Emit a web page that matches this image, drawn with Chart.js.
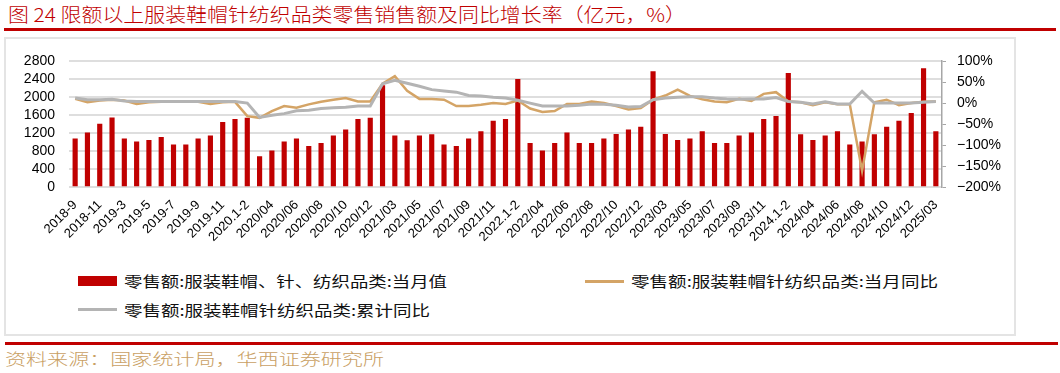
<!DOCTYPE html>
<html>
<head>
<meta charset="utf-8">
<script src="https://cdn.jsdelivr.net/npm/chart.js@4.4.1/dist/chart.umd.min.js"></script>
<style>
  body { margin: 0; width: 1060px; height: 373px; background: #fff; position: relative; overflow: hidden;
         font-family: "Noto Sans CJK SC", sans-serif; }
  .abs { position: absolute; white-space: nowrap; }
  .fit { transform-origin: left center; }
  #title { left: 8px; top: 2px; font-size: 19px; line-height: 24px; color: #c00000; font-weight: 300; }
  #rule-top { left: 4px; top: 28px; width: 1052px; height: 3px; background: #c00000; }
  #frame { left: 4px; top: 37px; width: 1008px; height: 295px; border: 2px solid #e4e4e4; }
  #chart-wrap { left: 0; top: 40px; width: 1012px; height: 225px; }
  .legend-text { font-size: 15px; line-height: 20px; color: #111; }
  #rule-bottom { left: 5px; top: 342px; width: 1053px; height: 3px; background: #c00000; }
  #source { left: 5px; top: 348px; font-size: 16px; line-height: 20px; color: #c9a063; font-weight: 300; }
</style>
</head>
<body>
<div id="title" class="abs fit">图 24 限额以上服装鞋帽针纺织品类零售销售额及同比增长率（亿元，%）</div>
<div id="rule-top" class="abs"></div>
<div id="frame" class="abs"></div>
<div id="chart-wrap" class="abs"><canvas id="retailChart"></canvas></div>
<div id="legend"></div>
<div id="rule-bottom" class="abs"></div>
<div id="source" class="abs fit">资料来源：国家统计局，华西证券研究所</div>

<script>
//Categories (monthly, Jan-Feb combined)
const months = [
  '2018-9', '2018-10', '2018-11', '2018-12', '2019-3', '2019-4', '2019-5', '2019-6', '2019-7', '2019-8',
  '2019-9', '2019-10', '2019-11', '2019-12', '2020.1-2', '2020/03', '2020/04', '2020/05', '2020/06', '2020/07',
  '2020/08', '2020/09', '2020/10', '2020/11', '2020/12', '2021.1-2', '2021/03', '2021/04', '2021/05', '2021/06',
  '2021/07', '2021/08', '2021/09', '2021/10', '2021/11', '2021/12', '2022.1-2', '2022/03', '2022/04', '2022/05',
  '2022/06', '2022/07', '2022/08', '2022/09', '2022/10', '2022/11', '2022/12', '2023.1-2', '2023/03', '2023/04',
  '2023/05', '2023/06', '2023/07', '2023/08', '2023/09', '2023/10', '2023/11', '2023/12', '2024.1-2', '2024/03',
  '2024/04', '2024/05', '2024/06', '2024/07', '2024/08', '2024/09', '2024/10', '2024/11', '2024/12', '2025.1-2',
  '2025/03'
];

//Retail sales, 100 million yuan (left axis)
const salesValue = [
  1080, 1213, 1411, 1550, 1080, 1014, 1050, 1116, 948, 948,
  1080, 1147, 1447, 1513, 1543, 690, 816, 1014, 1080, 917,
  983, 1147, 1279, 1513, 1543, 2262, 1147, 1043, 1147, 1175,
  948, 917, 1080, 1241, 1477, 1513, 2403, 983, 816, 983,
  1213, 983, 983, 1080, 1182, 1279, 1345, 2572, 1182, 1050,
  1080, 1241, 983, 983, 1147, 1213, 1513, 1579, 2536, 1175,
  1050, 1147, 1241, 948, 1014, 1175, 1345, 1477, 1645, 2637,
  1241
];

//Month YoY, % (right axis)
const monthYoY = [
  10, 2, 6, 8, 6, -2, 2, 3, 3, 3,
  3, -2, 2, 3, -31, -35, -19, -7, -11, -3,
  3, 8, 12, 4, 4, 46, 64, 29, 10, 10,
  8, -7, -7, -4, 0, -2, 6, -13, -21, -19,
  -2, -2, 4, 0, -7, -15, -12, 8, 18, 32,
  17, 9, 4, 2, 10, 5, 22, 26, 4, 2,
  -5, 2, -3, -3, -161, 2, 8, -5, 0, 3,
  4
];

//Year-to-date YoY, % (right axis)
const ytdYoY = [
  12, 8, 8, 9, 5, 4, 4, 4, 4, 4,
  4, 4, 4, 4, 0, -34, -29, -25, -18, -17,
  -13, -11, -10, -7, -7, 46, 54, 47, 40, 32,
  29, 26, 18, 17, 14, 12, 7, 0, -7, -7,
  -7, -5, -2, -3, -5, -9, -8, 8, 12, 14,
  15, 15, 12, 10, 9, 10, 10, 13, 4, 2,
  -2, 3, -2, -2, 28, 0, 0, 0, 0, 2,
  4
];

const seriesNames = [
  '零售额:服装鞋帽、针、纺织品类:当月值',
  '零售额:服装鞋帽针纺织品类:当月同比',
  '零售额:服装鞋帽针纺织品类:累计同比'
];

const tickFont = { family: '"Liberation Sans", Arial, sans-serif', size: 14, lineHeight: 1 };

//Stretch a text element to a given width (reference text is wide-set)
function stretchTo(el, width) {
  const natural = el.getBoundingClientRect().width;
  el.style.transform = `scaleX(${width / natural})`;
}

//Create combo chart
function createChart() {
  const ctx = document.getElementById('retailChart').getContext('2d');

  /* global Chart */
  return new Chart(ctx, {
    type: 'bar',
    data: {
      labels: months,
      datasets: [
        {
          type: 'bar', label: seriesNames[0], data: salesValue, yAxisID: 'y', order: 3,
          backgroundColor: '#c00000', barPercentage: 0.42, categoryPercentage: 1
        },
        {
          type: 'line', label: seriesNames[1], data: monthYoY, yAxisID: 'y1', order: 2,
          borderColor: '#d4a466', borderWidth: 2.5, pointRadius: 0, tension: 0
        },
        {
          type: 'line', label: seriesNames[2], data: ytdYoY, yAxisID: 'y1', order: 1,
          borderColor: '#b4b4b4', borderWidth: 3, pointRadius: 0, tension: 0
        }
      ]
    },
    options: {
      responsive: true,
      maintainAspectRatio: false,
      animation: false,
      layout: { padding: { top: 20 } },
      plugins: { legend: { display: false }, tooltip: { enabled: false } },
      scales: {
        x: {
          grid: { display: false },
          border: { display: false },
          ticks: {
            autoSkip: false, maxRotation: 45, minRotation: 45, padding: 2,
            color: '#000', font: { family: tickFont.family, size: 13 },
            callback: function(value, index) {
              return index % 2 === 0 ? this.getLabelForValue(value) : '';
            }
          },
          afterFit: (scale) => { scale.height = 77.7; }
        },
        y: {
          position: 'left', min: 0, max: 2800,
          ticks: {
            stepSize: 400, autoSkip: false, maxTicksLimit: 20, padding: 14, color: '#000', font: tickFont,
            callback: (v) => String(v)
          },
          grid: { color: '#dedede', lineWidth: 2, drawTicks: false },
          border: { display: false },
          afterFit: (scale) => { scale.width = 69; }
        },
        y1: {
          position: 'right', min: -200, max: 100,
          ticks: {
            stepSize: 50, autoSkip: false, maxTicksLimit: 20, padding: 11, color: '#000', font: tickFont,
            callback: (v) => (v < 0 ? '\u2212' + Math.abs(v) : v) + '%'
          },
          grid: { drawOnChartArea: false, color: '#a6a6a6', tickLength: 4 },
          border: { display: true, color: '#a6a6a6', width: 1.5 },
          afterFit: (scale) => { scale.width = 70; }
        }
      }
    }
  });
}

//HTML legend built from the chart's datasets
function buildLegend(chart) {
  const spots = [
    { left: 78, y: 281, textWidth: 323 },
    { left: 585, y: 281, textWidth: 307 },
    { left: 78, y: 309.5, textWidth: 306 }
  ];
  const holder = document.getElementById('legend');

  chart.data.datasets.forEach((ds, i) => {
    const spot = spots[i];
    const swatch = document.createElement('div');
    swatch.className = 'abs';
    const isBar = ds.type === 'bar';
    const h = isBar ? 10 : 3;
    swatch.style.cssText = `left:${spot.left}px;top:${spot.y - h / 2}px;width:39px;height:${h}px;` +
      `background:${isBar ? ds.backgroundColor : ds.borderColor};`;
    holder.appendChild(swatch);

    const text = document.createElement('div');
    text.className = 'abs fit legend-text';
    text.style.left = (spot.left + 46) + 'px';
    text.style.top = (spot.y - 10) + 'px';
    text.textContent = ds.label;
    holder.appendChild(text);
    stretchTo(text, spot.textWidth);
  });
}

//Orchestrator
function init() {
  stretchTo(document.getElementById('title'), 678);
  stretchTo(document.getElementById('source'), 379);
  const chart = createChart();
  buildLegend(chart);
}

document.addEventListener('DOMContentLoaded', init);
</script>
</body>
</html>
